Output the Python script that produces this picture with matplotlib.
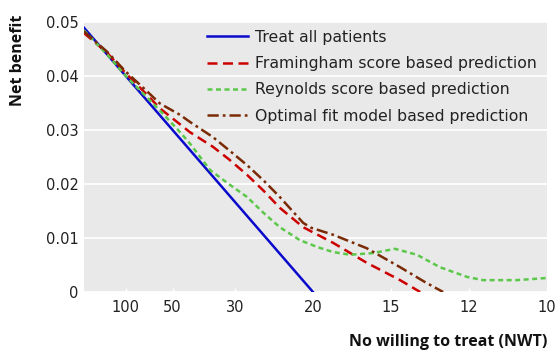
import matplotlib
matplotlib.use('Agg')
import matplotlib.pyplot as plt

plt.rcParams['font.family'] = ['DejaVu Sans']

# threshold probability (x) and net benefit (y)
treat_all_pt = [0.001, 0.05]
treat_all_nb = [0.049, 0.0]

fram_pt = [0.001, 0.006, 0.010, 0.0140, 0.0173, 0.0205, 0.0237, 0.0286, 0.0320,
           0.0359, 0.0395, 0.0429, 0.0479, 0.0543, 0.0615, 0.0686, 0.0729]
fram_nb = [0.0480, 0.0443, 0.0405, 0.0370, 0.0340, 0.0318, 0.0296, 0.0269, 0.0246,
           0.0217, 0.0187, 0.0156, 0.0120, 0.0091, 0.0054, 0.0022, 0.0]

reyn_pt = [0.001, 0.006, 0.010, 0.0140, 0.0173, 0.0216, 0.0237, 0.0280, 0.0320,
           0.0359, 0.0395, 0.0429, 0.0472, 0.0510, 0.0543, 0.0579, 0.0628, 0.0675,
           0.0722, 0.0771, 0.0829, 0.0863, 0.0936, 0.1]
reyn_nb = [0.0485, 0.0440, 0.0400, 0.0365, 0.0336, 0.0296, 0.0275, 0.0226, 0.0200,
           0.0176, 0.0146, 0.0120, 0.0096, 0.0083, 0.0074, 0.0069, 0.0072, 0.0080,
           0.0069, 0.0046, 0.0028, 0.0022, 0.0022, 0.0026]

opt_pt = [0.001, 0.006, 0.010, 0.0140, 0.0173, 0.0216, 0.0237, 0.0286, 0.0320,
          0.0359, 0.0395, 0.0429, 0.0479, 0.0496, 0.0543, 0.0615, 0.0686, 0.0740, 0.0778]
opt_nb = [0.0483, 0.0445, 0.0408, 0.0376, 0.0349, 0.0328, 0.0315, 0.0287, 0.0263,
          0.0235, 0.0206, 0.0176, 0.0128, 0.0119, 0.0106, 0.0081, 0.0046, 0.0018, 0.0]

nwt_ticks = [100, 50, 30, 20, 15, 12, 10]
y_ticks = [0, 0.01, 0.02, 0.03, 0.04, 0.05]
y_labels = ['0', '0.01', '0.02', '0.03', '0.04', '0.05']

fig = plt.figure(figsize=(5.58, 3.5), dpi=100)
ax = fig.add_axes([84 / 558, 58 / 350, (547 - 84) / 558, (292 - 22) / 350])
ax.set_facecolor('#e9e9e9')

ax.plot(treat_all_pt, treat_all_nb, color='#0a0acc', lw=1.8,
        label='Treat all patients')
ax.plot(fram_pt, fram_nb, color='#cc0000', lw=1.8, dashes=(4, 2.2),
        label='Framingham score based prediction')
ax.plot(reyn_pt, reyn_nb, color='#5cc84a', lw=1.8, dashes=(2, 1.4),
        label='Reynolds score based prediction')
ax.plot(opt_pt, opt_nb, color='#7a2a05', lw=1.8, dashes=(4.5, 1.6, 1.1, 1.6),
        label='Optimal fit model based prediction')

ax.set_xlim(0.00107, 0.1)
ax.set_ylim(0, 0.05)
ax.set_xticks([1.0 / n for n in nwt_ticks])
ax.set_xticklabels([str(n) for n in nwt_ticks])
ax.set_yticks(y_ticks)
ax.set_yticklabels(y_labels)
ax.grid(axis='y', color='white', lw=1.3)
ax.set_axisbelow(True)
for s in ax.spines.values():
    s.set_visible(False)
ax.tick_params(axis='y', length=0, labelsize=10.5, pad=4, labelcolor='#222222')
ax.tick_params(axis='x', direction='in', length=3, color='white', width=1,
               labelsize=10.5, pad=6, labelcolor='#222222')

leg = ax.legend(loc='upper right', frameon=False, fontsize=11.3,
                handlelength=2.6, handletextpad=0.45, labelspacing=0.72,
                borderaxespad=0.1, bbox_to_anchor=(0.995, 1.0))
for t in leg.get_texts():
    t.set_color('#222222')

fig.text(18 / 558, 1 - 60 / 350, 'Net benefit', rotation=90, ha='center',
         va='center', fontsize=11.5, fontweight='bold', color='#111111',
         family='Open Sans')
fig.text(547 / 558, 1 - 342 / 350, 'No willing to treat (NWT)', ha='right',
         va='center', fontsize=11.5, fontweight='bold', color='#111111',
         family='Open Sans')

fig.savefig('out.png', dpi=100)
